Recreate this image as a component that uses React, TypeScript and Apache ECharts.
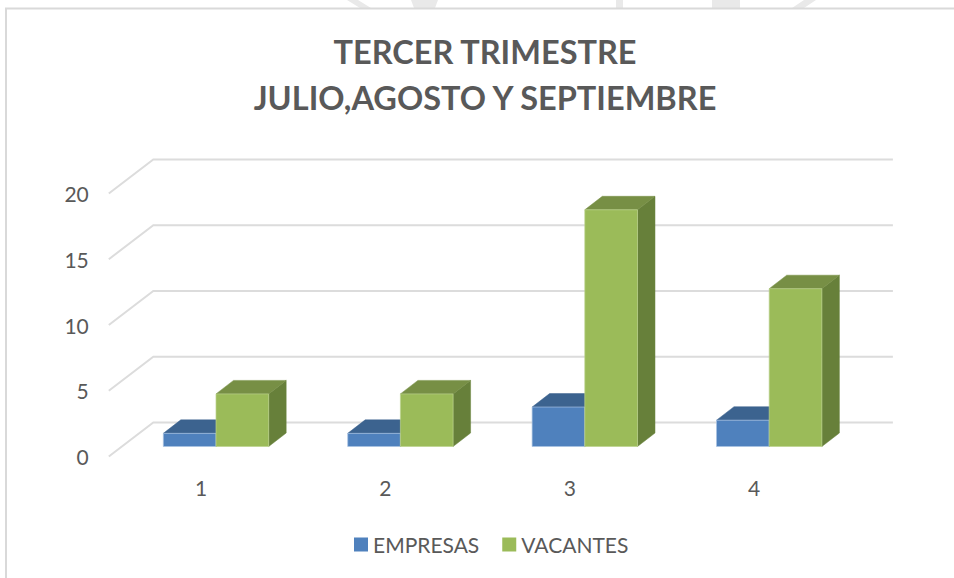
import React, { useEffect, useRef } from "react";
import * as echarts from "echarts";

const categories = ["1", "2", "3", "4"];
const empresas = [1, 1, 3, 2];
const vacantes = [4, 4, 18, 12];
const yTicks = [0, 5, 10, 15, 20];
const titleText = "TERCER TRIMESTRE\nJULIO,AGOSTO Y SEPTIEMBRE";
const FONT = "Lato";
const TEXT = "#595959";

// oblique projection: floor/wall depth and the bars' plane inside it
const BACK_DX = 44.5;
const BACK_DY = -34;
const BACK_EXTRA = 2;
const PLANE_DX = 15;
const PLANE_DY = -10;
const BAR_DX = 17.5;
const BAR_DY = -13.5;
const BAR_SHARE = 1 / 3.5;

function barSeries(name: string, values: number[], side: -1 | 0, c: { front: string; top: string; side: string; edge: string }) {
  return {
    name,
    type: "custom",
    coordinateSystem: "cartesian2d",
    z: 3,
    itemStyle: { color: c.front },
    encode: { x: 0, y: 1 },
    data: values.map((v, i) => [i, v]),
    renderItem: (_: any, api: any) => {
      const top = api.coord([api.value(0), api.value(1)]);
      const base = api.coord([api.value(0), 0]);
      const w = api.size([1, 0])[0] * BAR_SHARE;
      const x0 = top[0] + PLANE_DX + side * w;
      const x1 = x0 + w;
      const yT = top[1] + PLANE_DY;
      const yB = base[1] + PLANE_DY;
      return {
        type: "group",
        children: [
          { type: "polygon", shape: { points: [[x1, yT], [x1 + BAR_DX, yT + BAR_DY], [x1 + BAR_DX, yB + BAR_DY], [x1, yB]] }, style: { fill: c.side, stroke: c.side, lineWidth: 0.5 } },
          { type: "polygon", shape: { points: [[x0, yT], [x0 + BAR_DX, yT + BAR_DY], [x1 + BAR_DX, yT + BAR_DY], [x1, yT]] }, style: { fill: c.top, stroke: c.top, lineWidth: 0.5 } },
          { type: "rect", shape: { x: x0, y: yT, width: w, height: yB - yT }, style: { fill: c.front, stroke: c.edge, lineWidth: 0.7 } },
        ],
      };
    },
  };
}

export default function App() {
  const ref = useRef<HTMLDivElement>(null);
  useEffect(() => {
    document.body.style.margin = "0";
    const chart = echarts.init(ref.current!, null, { renderer: "svg" });
    chart.setOption({
      animation: false,
      backgroundColor: "#ffffff",
      textStyle: { fontFamily: FONT },
      title: {
        text: titleText,
        left: 480,
        top: 23,
        textAlign: "center",
        textStyle: { fontFamily: FONT, fontWeight: "bold", fontSize: 32.5, lineHeight: 46, color: TEXT },
      },
      legend: {
        data: [{ name: "EMPRESAS" }, { name: "VACANTES" }],
        left: 349,
        top: 529,
        itemWidth: 14,
        itemHeight: 14,
        itemGap: 23,
        icon: "rect",
        textStyle: { fontFamily: FONT, fontSize: 21, color: TEXT },
      },
      grid: { left: 108.8, top: 193.5, width: 737.6, height: 263 },
      xAxis: {
        type: "category",
        data: categories,
        axisLine: { show: false },
        axisTick: { show: false },
        axisLabel: { fontFamily: FONT, fontSize: 21, color: TEXT, margin: 20 },
      },
      yAxis: {
        type: "value",
        min: 0,
        max: 20,
        interval: 5,
        axisLine: { show: false },
        axisTick: { show: false },
        splitLine: { show: false },
        axisLabel: { fontFamily: FONT, fontSize: 21, color: TEXT, margin: 20, verticalAlign: "middle", padding: [0, 0, 4, 0] },
      },
      graphic: [
        { type: "polygon", silent: true, shape: { points: [[347, 0], [358, 0], [371, 8], [360, 8]] }, style: { fill: "#e9e9e9" } },
        { type: "polygon", silent: true, shape: { points: [[411, 0], [438, 0], [435, 8], [414, 8]] }, style: { fill: "#e9e9e9" } },
        { type: "rect", silent: true, shape: { x: 616, y: 0, width: 7, height: 8 }, style: { fill: "#e9e9e9" } },
        { type: "rect", silent: true, shape: { x: 712, y: 0, width: 28, height: 8 }, style: { fill: "#e9e9e9" } },
        { type: "polygon", silent: true, shape: { points: [[804, 0], [816, 0], [804, 8], [792, 8]] }, style: { fill: "#e9e9e9" } },
        {
          type: "polyline",
          silent: true,
          shape: { points: [[6, 578], [6, 8.5], [954, 8.5]] },
          style: { stroke: "#d9d9d9", lineWidth: 2, fill: "none" },
        },
      ],
      series: [
        {
          name: "grid",
          type: "custom",
          coordinateSystem: "cartesian2d",
          z: 1,
          silent: true,
          data: yTicks.map((v) => [0, v]),
          encode: { y: 1 },
          renderItem: (params: any, api: any) => {
            const p = api.coord([0, api.value(1)]);
            const x = params.coordSys.x;
            const w = params.coordSys.width;
            return {
              type: "polyline",
              shape: { points: [[x, p[1]], [x + BACK_DX, p[1] + BACK_DY], [x + w + BACK_DX + BACK_EXTRA, p[1] + BACK_DY]] },
              style: { stroke: "#dcdcdc", lineWidth: 2, fill: "none" },
            };
          },
        },
        barSeries("EMPRESAS", empresas, -1, { front: "#4f81bd", top: "#3c638f", side: "#385d8a", edge: "#a9c3e2" }),
        barSeries("VACANTES", vacantes, 0, { front: "#9bbb59", top: "#778f45", side: "#67803a", edge: "#bcd28e" }),
      ],
    });
    return () => chart.dispose();
  }, []);
  return <div ref={ref} style={{ width: 954, height: 578 }} />;
}
